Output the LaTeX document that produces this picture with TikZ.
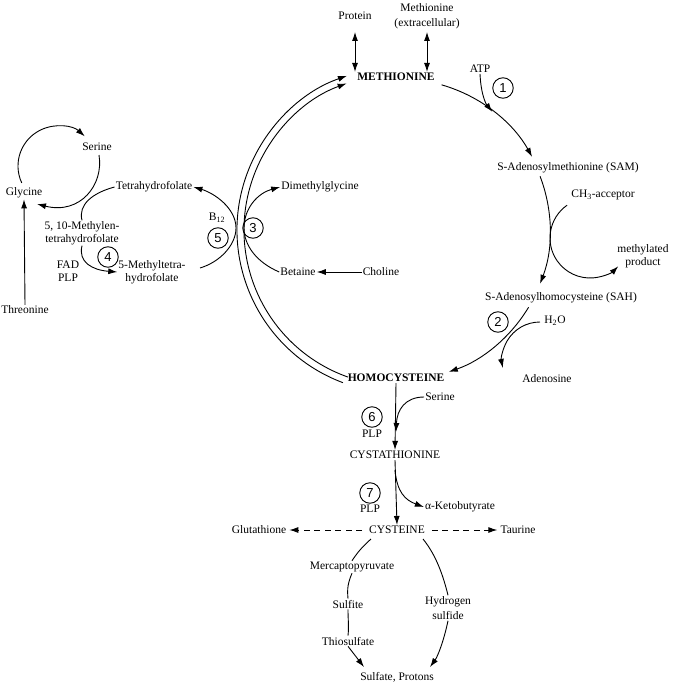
\documentclass[tikz,border=0pt]{standalone}
\usepackage{fontspec}
\setmainfont{Liberation Serif}
\newfontfamily\numfont{Liberation Sans}
\usetikzlibrary{arrows.meta,calc}
\begin{document}
\begin{tikzpicture}[x=1pt,y=-1pt,
  lbl/.style={font=\fontsize{11.5}{12.5}\selectfont, inner sep=1pt, align=center},
  lblw/.style={font=\fontsize{11.5}{15}\selectfont, inner sep=1pt, align=center},
  bld/.style={lbl, font=\fontsize{11.5}{12.5}\selectfont\bfseries},
  num/.style={circle, draw, line width=0.9pt, minimum size=20.5pt, inner sep=0pt, font=\numfont\fontsize{13}{13}\selectfont},
  ln/.style={line width=0.9pt},
  arr/.style={ln, -{Latex[length=9pt,width=6pt]}},
  darr/.style={ln, {Latex[length=9pt,width=6pt]}-{Latex[length=9pt,width=6pt]}},
  dsh/.style={arr, dash pattern=on 6pt off 4.5pt, shorten <=6pt, shorten >=2pt}]
\useasboundingbox (0,0) rectangle (673,685);
% centre of main cycle
\coordinate (c) at (400,230);
% ---------- nodes
\node[lbl] (Prot) at (355,16) {Protein};
\node[lblw] (MetEx) at (427,16.5) {Methionine\\(extracellular)};
\node[bld] (Met) at (396,77) {METHIONINE};
\node[lbl] (ATP) at (480,69) {ATP};
\node[num] (n1) at (503,88) {1};
\node[lbl] (SAM) at (568,168) {S-Adenosylmethionine (SAM)};
\node[lbl] (CH3) at (603,195) {CH\textsubscript{3}-acceptor};
\node[lbl] (MP) at (643,256) {methylated\\product};
\node[lbl] (SAH) at (561,298) {S-Adenosylhomocysteine (SAH)};
\node[num] (n2) at (498,322) {2};
\node[lbl] (H2O) at (555,321) {H\textsubscript{2}O};
\node[lbl] (Ado) at (547,379) {Adenosine};
\node[bld] (Hcy) at (396,378) {HOMOCYSTEINE};
\node[lbl] (Ser2) at (440,397) {Serine};
\node[num] (n6) at (372,417) {6};
\node[lbl] (PLP6) at (372,434) {PLP};
\node[lbl] (Cysta) at (395,455) {CYSTATHIONINE};
\node[num] (n7) at (370,493) {7};
\node[lbl] (PLP7) at (370,509) {PLP};
\node[lbl] (aKB) at (460,507) {α-Ketobutyrate};
\node[lbl] (Cys) at (397,530) {CYSTEINE};
\node[lbl] (Glut) at (259,530) {Glutathione};
\node[lbl] (Tau) at (518,530) {Taurine};
\node[lbl] (Merc) at (352,567) {Mercaptopyruvate};
\node[lbl] (Sulfite) at (348,604) {Sulfite};
\node[lbl] (Thio) at (348,641) {Thiosulfate};
\node[lbl] (SP) at (397,677) {Sulfate, Protons};
\node[lblw] (HS) at (448,608) {Hydrogen\\sulfide};
\node[lbl] (Ser1) at (97,147) {Serine};
\node[lbl] (Gly) at (24,193) {Glycine};
\node[lbl] (THF) at (154,187) {Tetrahydrofolate};
\node[lbl] (Meth) at (82,233) {5, 10-Methylen-\\tetrahydrofolate};
\node[lbl] (FAD) at (68,271) {FAD\\PLP};
\node[num] (n4) at (108,257) {4};
\node[lbl] (MTHF) at (152,272) {5-Methyltetra-\\hydrofolate};
\node[lbl] (Thr) at (25,310) {Threonine};
\node[lbl] (B12) at (217,218) {B\textsubscript{12}};
\node[num] (n5) at (218,238) {5};
\node[num] (n3) at (253,228) {3};
\node[lbl] (Bet) at (298,272) {Betaine};
\node[lbl] (DMG) at (320,187) {Dimethylglycine};
\node[lbl] (Chol) at (381,272) {Choline};
% ---------- top exchanges
\draw[darr] (Prot.south |- 0,32) -- (Prot.south |- Met.north);
\draw[darr] (MetEx.south |- 0,32) -- (MetEx.south |- Met.north);
% ---------- main cycle
\draw[arr] ([shift={(-74:151)}]c) arc[start angle=-74, end angle=-29, radius=151];
\draw[arr] (ATP.south) .. controls (481,95) and (486,104) .. ([shift={(-52:150)}]c);
\draw[arr] ([shift={(-21:150)}]c) arc[start angle=-21, end angle=21, radius=150];
\draw[arr] ([shift={(235:40)}]590,238) arc[start angle=235, end angle=45, radius=40];
\draw[arr] ([shift={(31:150)}]c) arc[start angle=31, end angle=71, radius=150];
\draw[arr] ([shift={(270:38)}]540,360) arc[start angle=270, end angle=168, radius=38];
% double return arc Homocysteine -> Methionine
\draw[arr] ([shift={(110.5:163)}]c) arc[start angle=110.5, end angle=251, radius=163];
\draw[arr] ([shift={(109.5:156)}]c) arc[start angle=109.5, end angle=250, radius=156];
% B12 arc (5)
\draw[arr] (200,268) .. controls (220,262) and (236,245) .. (236,228)
  .. controls (236,208) and (214,193) .. (THF.east);
% Betaine arc (3)
\draw[arr] (Bet.west) .. controls (256,262) and (244,245) .. (244,228)
  .. controls (244,208) and (258,193) .. (DMG.west);
\draw[arr] (Chol.west) -- (Bet.east);
% ---------- folate side
\draw[arr] ([shift={(155:40)}]58,166) arc[start angle=155, end angle=312, radius=40];
\draw[arr] (99,155) .. controls (104,185) and (80,215) .. (37,204);
\draw[ln] (THF.west) .. controls (92,193) and (78,205) .. (Meth.north);
\draw[arr] (Meth.south) .. controls (78,262) and (92,270) .. (MTHF.west);
\draw[arr] (Thr.north) -- (Gly.south);
% ---------- transsulfuration
\draw[arr] (Hcy.south) -- (Cysta.north);
\draw[arr] (Ser2.west) .. controls (405,397) and (397,410) .. (Hcy.south |- 0,432);
\draw[arr] (Cysta.south) -- (Cys.north);
\draw[arr] (Cysta.south |- 0,470) .. controls (397,492) and (405,500) .. (aKB.west);
\draw[dsh] (Cys.west) -- (Glut.east);
\draw[dsh] (Cys.east) -- (Tau.west);
\draw[ln] (371,539) .. controls (362,547) and (357,553) .. (Merc.north);
\draw[ln] (Merc.south) .. controls (348,583) and (347,588) .. (Sulfite.north);
\draw[ln] (Sulfite.south) .. controls (348,620) and (349,626) .. (Thio.north);
\draw[arr] (Thio.south) -- (364,667);
\draw[ln] (423,539) .. controls (436,555) and (443,575) .. (HS.north);
\draw[arr] (HS.south) .. controls (444,640) and (438,656) .. (430,667);
\end{tikzpicture}
\end{document}
